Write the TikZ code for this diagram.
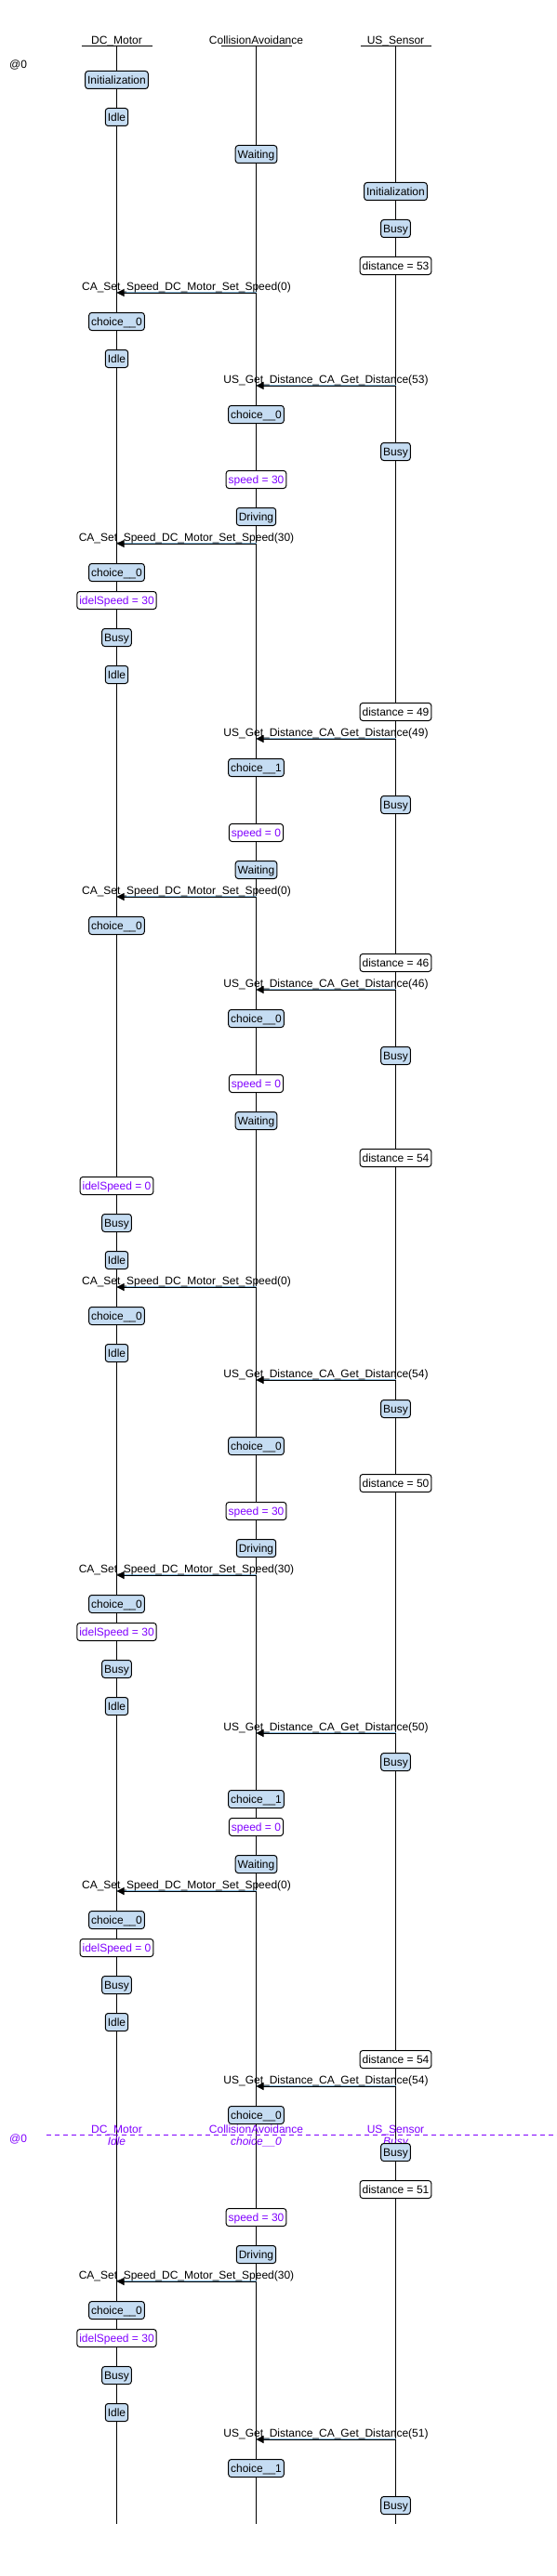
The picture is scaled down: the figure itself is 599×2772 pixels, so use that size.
\documentclass[tikz,border=0pt]{standalone}
\usepackage{fontspec}
\setmainfont{Liberation Sans}
\usetikzlibrary{arrows.meta,calc}
\definecolor{stateblue}{RGB}{197,220,242}
\definecolor{msgblue}{RGB}{140,190,225}
\definecolor{vpurple}{RGB}{128,0,255}
\tikzset{
  txt/.style={font=\fontsize{12}{14}\selectfont},
  stbox/.style={txt, draw=black, line width=1pt, fill=stateblue, rounded corners=3pt,
    inner xsep=2.5pt, inner ysep=0pt, minimum height=19pt, text height=8.6pt, text depth=0pt},
  varbox/.style={stbox, fill=white},
  pvarbox/.style={varbox, text=vpurple},
  lifeline/.style={line width=1pt, black},
  msgline/.style={line width=1pt, black, -{Triangle[length=8pt,width=8pt]}},
  msgshade/.style={line width=1pt, msgblue},
  lbl/.style={txt, inner sep=0pt},
  snapline/.style={line width=1pt, vpurple, dash pattern=on 5pt off 4pt},
  snaplbl/.style={lbl, text=vpurple, anchor=base},
}
\newcommand\stb[4]{\node[stbox] (#1) at (#2,#3) {#4};}
\newcommand\vrb[4]{\node[varbox] (#1) at (#2,#3) {#4};}
\newcommand\pvb[4]{\node[pvarbox] (#1) at (#2,#3) {#4};}
\newcommand\mymsg[5]{%
  \coordinate (#1s) at (#3,#2);
  \coordinate (#1e) at (#4,#2);
  \draw[msgshade] ([yshift=1pt]#1s) -- ([yshift=1pt]#1e);
  \draw[msgline] (#1s) -- (#1e);
  \node[lbl, anchor=base] (#1l) at ($(#1s)!0.5!(#1e)+(0,-2.5)$) {#5};
}
\newcommand\setsp[1]{CA\_Set\_Speed\_DC\_Motor\_Set\_Speed(#1)}
\newcommand\getd[1]{US\_Get\_Distance\_CA\_Get\_Distance(#1)}
\def\xd{125.5}
\def\xc{275.5}
\def\xu{425.5}
\begin{document}
\begin{tikzpicture}[x=1pt,y=-1pt]
\useasboundingbox (0,0) rectangle (599,2772);
% headers
\node[lbl, anchor=base] (hdc) at (\xd,47.5) {DC\_Motor};
\node[lbl, anchor=base] (hca) at (\xc,47.5) {CollisionAvoidance};
\node[lbl, anchor=base] (hus) at (\xu,47.5) {US\_Sensor};
\coordinate (dcT) at (\xd,50); \coordinate (dcB) at (\xd,2716);
\coordinate (caT) at (\xc,50); \coordinate (caB) at (\xc,2716);
\coordinate (usT) at (\xu,50); \coordinate (usB) at (\xu,2716);
\draw[lifeline] ([xshift=-38pt]dcT) -- ([xshift=38pt]dcT);
\draw[lifeline] ([xshift=-38pt]caT) -- ([xshift=38pt]caT);
\draw[lifeline] ([xshift=-38pt]usT) -- ([xshift=38pt]usT);
\draw[lifeline] (dcT) -- (dcB);
\draw[lifeline] (caT) -- (caB);
\draw[lifeline] (usT) -- (usB);
\node[lbl, anchor=base west] (t0) at (10,73.3) {@0};
% snapshot line
\coordinate (snL) at (49.5,2297); \coordinate (snR) at (599,2297);
\draw[snapline] (snL) -- (snR);
\node[lbl, text=vpurple, anchor=base west] (t1) at (10,2305.3) {@0};
\node[snaplbl] (sn1) at (\xd,2295.3) {DC\_Motor};
\node[snaplbl] (sn2) at (\xc,2295.3) {CollisionAvoidance};
\node[snaplbl] (sn3) at (\xu,2295.3) {US\_Sensor};
\node[snaplbl] (sn4) at (\xd,2308.3) {\itshape Idle};
\node[snaplbl] (sn5) at (\xc,2308.3) {\itshape choice\_\_0};
\node[snaplbl] (sn6) at (\xu,2308.3) {\itshape Busy};
% events
\stb{e1}{\xd}{86}{Initialization}
\stb{e2}{\xd}{126}{Idle}
\stb{e3}{\xc}{166}{Waiting}
\stb{e4}{\xu}{206}{Initialization}
\stb{e5}{\xu}{246}{Busy}
\vrb{e6}{\xu}{286}{distance = 53}
\mymsg{m7}{315}{\xc}{\xd}{\setsp{0}}
\stb{e8}{\xd}{346}{choice\_\_0}
\stb{e9}{\xd}{386}{Idle}
\mymsg{m10}{415}{\xu}{\xc}{\getd{53}}
\stb{e11}{\xc}{446}{choice\_\_0}
\stb{e12}{\xu}{486}{Busy}
\pvb{e13}{\xc}{516}{speed = 30}
\stb{e14}{\xc}{556}{Driving}
\mymsg{m15}{585}{\xc}{\xd}{\setsp{30}}
\stb{e16}{\xd}{616}{choice\_\_0}
\pvb{e17}{\xd}{646}{idelSpeed = 30}
\stb{e18}{\xd}{686}{Busy}
\stb{e19}{\xd}{726}{Idle}
\vrb{e20}{\xu}{766}{distance = 49}
\mymsg{m21}{795}{\xu}{\xc}{\getd{49}}
\stb{e22}{\xc}{826}{choice\_\_1}
\stb{e23}{\xu}{866}{Busy}
\pvb{e24}{\xc}{896}{speed = 0}
\stb{e25}{\xc}{936}{Waiting}
\mymsg{m26}{965}{\xc}{\xd}{\setsp{0}}
\stb{e27}{\xd}{996}{choice\_\_0}
\vrb{e28}{\xu}{1036}{distance = 46}
\mymsg{m29}{1065}{\xu}{\xc}{\getd{46}}
\stb{e30}{\xc}{1096}{choice\_\_0}
\stb{e31}{\xu}{1136}{Busy}
\pvb{e32}{\xc}{1166}{speed = 0}
\stb{e33}{\xc}{1206}{Waiting}
\vrb{e34}{\xu}{1246}{distance = 54}
\pvb{e35}{\xd}{1276}{idelSpeed = 0}
\stb{e36}{\xd}{1316}{Busy}
\stb{e37}{\xd}{1356}{Idle}
\mymsg{m38}{1385}{\xc}{\xd}{\setsp{0}}
\stb{e39}{\xd}{1416}{choice\_\_0}
\stb{e40}{\xd}{1456}{Idle}
\mymsg{m41}{1485}{\xu}{\xc}{\getd{54}}
\stb{e42}{\xu}{1516}{Busy}
\stb{e43}{\xc}{1556}{choice\_\_0}
\vrb{e44}{\xu}{1596}{distance = 50}
\pvb{e45}{\xc}{1626}{speed = 30}
\stb{e46}{\xc}{1666}{Driving}
\mymsg{m47}{1695}{\xc}{\xd}{\setsp{30}}
\stb{e48}{\xd}{1726}{choice\_\_0}
\pvb{e49}{\xd}{1756}{idelSpeed = 30}
\stb{e50}{\xd}{1796}{Busy}
\stb{e51}{\xd}{1836}{Idle}
\mymsg{m52}{1865}{\xu}{\xc}{\getd{50}}
\stb{e53}{\xu}{1896}{Busy}
\stb{e54}{\xc}{1936}{choice\_\_1}
\pvb{e55}{\xc}{1966}{speed = 0}
\stb{e56}{\xc}{2006}{Waiting}
\mymsg{m57}{2035}{\xc}{\xd}{\setsp{0}}
\stb{e58}{\xd}{2066}{choice\_\_0}
\pvb{e59}{\xd}{2096}{idelSpeed = 0}
\stb{e60}{\xd}{2136}{Busy}
\stb{e61}{\xd}{2176}{Idle}
\vrb{e62}{\xu}{2216}{distance = 54}
\mymsg{m63}{2245}{\xu}{\xc}{\getd{54}}
\stb{e64}{\xc}{2276}{choice\_\_0}
\stb{e66}{\xu}{2316}{Busy}
\vrb{e67}{\xu}{2356}{distance = 51}
\pvb{e68}{\xc}{2386}{speed = 30}
\stb{e69}{\xc}{2426}{Driving}
\mymsg{m70}{2455}{\xc}{\xd}{\setsp{30}}
\stb{e71}{\xd}{2486}{choice\_\_0}
\pvb{e72}{\xd}{2516}{idelSpeed = 30}
\stb{e73}{\xd}{2556}{Busy}
\stb{e74}{\xd}{2596}{Idle}
\mymsg{m75}{2625}{\xu}{\xc}{\getd{51}}
\stb{e76}{\xc}{2656}{choice\_\_1}
\stb{e77}{\xu}{2696}{Busy}
\end{tikzpicture}
\end{document}
